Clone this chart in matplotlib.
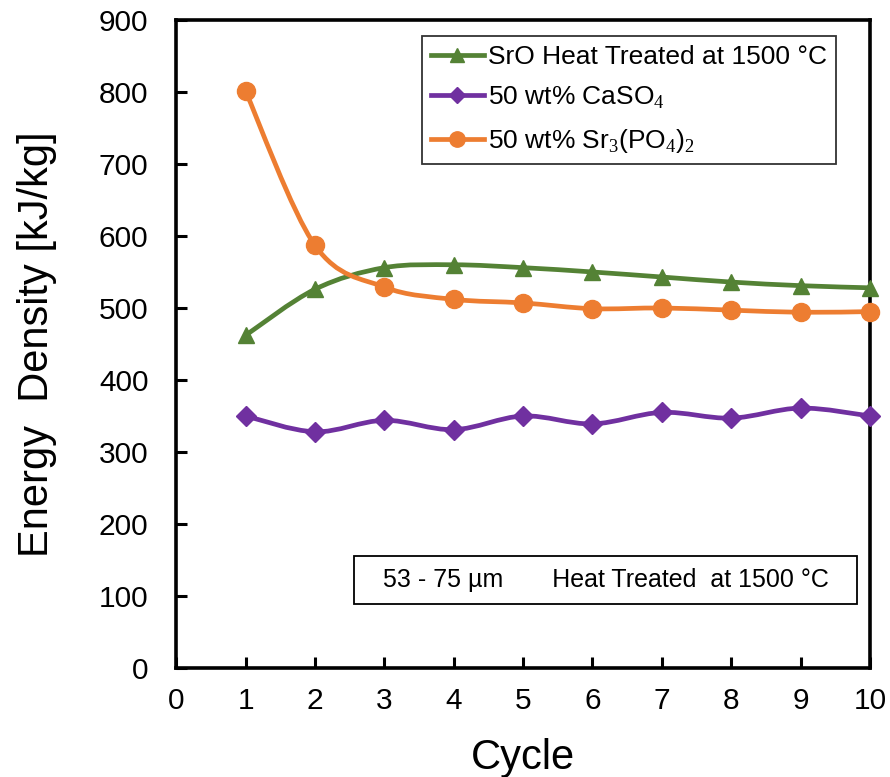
import matplotlib
matplotlib.use("Agg")
import matplotlib.pyplot as plt
import numpy as np
from matplotlib.path import Path
from matplotlib.patches import PathPatch, Rectangle
from matplotlib.lines import Line2D

plt.rcParams['font.family'] = ['Liberation Sans', 'DejaVu Sans']
plt.rcParams['mathtext.fontset'] = 'custom'
plt.rcParams['mathtext.rm'] = 'Liberation Serif'

cycles = [1, 2, 3, 4, 5, 6, 7, 8, 9, 10]
sro = [462, 526, 556, 560, 556, 550, 543, 536, 531, 528]
caso4 = [350, 328, 344, 331, 350, 339, 355, 347, 361, 350]
sr3po4 = [801, 587, 529, 512, 507, 499, 500, 497, 494, 495]

labels = ['SrO Heat Treated at 1500 °C',
          '50 wt% CaSO$_4$',
          '50 wt% Sr$_3$(PO$_4$)$_2$']
colors = ['#548235', '#7030A0', '#ED7D31']
markers = ['^', 'D', 'o']
msizes = [12, 10, 13]

fig = plt.figure(figsize=(8.9, 7.77), dpi=100)
ax = fig.add_axes([0.198, 0.1403, 0.7795, 0.834])
ax.set_xlim(0, 10)
ax.set_ylim(0, 900)


def smooth_path(x, y, sx, sy):
    # Excel style smoothed line: cubic bezier with 1/6 tension
    px = np.asarray(x, float) * sx
    py = np.asarray(y, float) * sy
    pts = np.column_stack([px, py])
    n = len(pts)
    verts = [pts[0]]
    codes = [Path.MOVETO]
    for i in range(n - 1):
        p0 = pts[i - 1] if i > 0 else pts[i]
        p1 = pts[i]
        p2 = pts[i + 1]
        p3 = pts[i + 2] if i + 2 < n else pts[i + 1]
        c1 = p1 + (p2 - p0) / 6.0
        c2 = p2 - (p3 - p1) / 6.0
        verts += [c1, c2, p2]
        codes += [Path.CURVE4] * 3
    verts = np.array(verts)
    verts[:, 0] /= sx
    verts[:, 1] /= sy
    return Path(verts, codes)


sx, sy = 69.4, 0.72
for ys, c, m, ms in zip([sro, caso4, sr3po4], colors, markers, msizes):
    ax.add_patch(PathPatch(smooth_path(cycles, ys, sx, sy), fill=False,
                           edgecolor=c, lw=3.4, zorder=2, clip_on=False))
    ax.plot(cycles, ys, linestyle='None', color=c, marker=m, markersize=ms,
            zorder=3, clip_on=False)

handles = [Line2D([], [], color=c, lw=3.4, marker=m, markersize=ms * 0.85)
           for c, m, ms in zip(colors, markers, msizes)]
leg = ax.legend(handles, labels, loc='upper right', bbox_to_anchor=(0.951, 0.976),
                fontsize=19, frameon=True, fancybox=False, edgecolor='black',
                handlelength=2.0, handletextpad=0.15, borderpad=0.35,
                labelspacing=0.6, borderaxespad=0)
leg.get_frame().set_linewidth(1.3)

# condition box
ax.add_patch(Rectangle((0.256, 0.099), 0.725, 0.074, transform=ax.transAxes,
                       fc='white', ec='black', lw=1.3, zorder=4))
ax.text(0.619, 0.136, '53 - 75 µm       Heat Treated  at 1500 °C',
        transform=ax.transAxes, ha='center', va='center', fontsize=18, zorder=5)

ax.set_xticks(range(0, 11))
ax.set_yticks(range(0, 1000, 100))
ax.tick_params(axis='both', direction='in', length=8, width=2.2, labelsize=21.5)
ax.tick_params(axis='y', pad=20)
ax.tick_params(axis='x', pad=14)
for s in ax.spines.values():
    s.set_linewidth(2.6)

ax.set_xlabel('Cycle', fontsize=30, labelpad=16)
ax.set_ylabel('Energy  Density [kJ/kg]', fontsize=30, labelpad=30)

fig.savefig('out.png', dpi=100)
